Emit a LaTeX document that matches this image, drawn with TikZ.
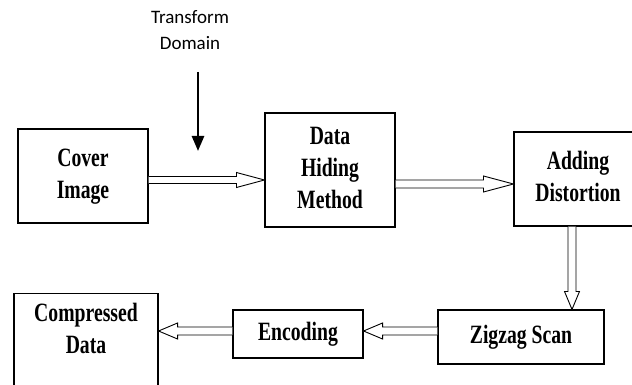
\documentclass[tikz,border=0pt]{standalone}
\usepackage{fontspec}
\usepackage{graphicx}
\setmainfont{Liberation Serif}
\newfontfamily\carlitofont{Carlito}
\usetikzlibrary{arrows.meta,calc}
\newcommand\bt[1]{\scalebox{0.82}[1.1]{\fontsize{24}{29}\selectfont\bfseries\begin{tabular}{@{}c@{}}#1\end{tabular}}}
% horizontal hollow arrow: start, end, shaft half, head half, signed head length
\newcommand\harr[5]{\draw[harrow] let \p1=(#1), \p2=(#2) in
  (\x1,{\y1+#3}) -- ({\x2-(#5)},{\y1+#3}) -- ({\x2-(#5)},{\y1+#4}) -- (\x2,\y1)
  -- ({\x2-(#5)},{\y1-#4}) -- ({\x2-(#5)},{\y1-#3}) -- (\x1,{\y1-#3});}
% vertical (downward) hollow arrow
\newcommand\varr[5]{\draw[harrow] let \p1=(#1), \p2=(#2) in
  ({\x1+#3},\y1) -- ({\x1+#3},{\y2+#5}) -- ({\x1+#4},{\y2+#5}) -- (\x1,\y2)
  -- ({\x1-#4},{\y2+#5}) -- ({\x1-#3},{\y2+#5}) -- ({\x1-#3},\y1);}
\tikzset{
  box/.style={draw, line width=1.1pt, inner sep=0pt},
  harrow/.style={draw, line width=0.9pt, fill=white, line join=miter},
}
\begin{document}
\begin{tikzpicture}[x=1pt,y=-1pt]
\useasboundingbox (0,0) rectangle (632,385);
\clip (0,0) rectangle (632,385);
\node[box, minimum width=130pt, minimum height=94pt] (cover) at (83,176) {\raisebox{7pt}{\bt{Cover\\Image}}};
\node[box, minimum width=130pt, minimum height=114pt] (dhm) at (330,170) {\bt{Data\\Hiding\\Method}};
\node[box, minimum width=128pt, minimum height=94pt] (ad) at (578,179) {\bt{Adding\\Distortion}};
\node[box, minimum width=166pt, minimum height=54pt] (zz) at (521,337) {\bt{Zigzag Scan}};
\node[box, minimum width=130pt, minimum height=48pt] (enc) at (298,334) {\bt{Encoding}};
\node[box, minimum width=144pt, minimum height=110pt, anchor=north] (cd) at (86,293) {};
\node[inner sep=0pt] (cdt) at (86,331) {\bt{Compressed\\Data}};
\node[font=\carlitofont\fontsize{19}{26}\selectfont, align=center, inner sep=0pt] (td) at (190,30) {Transform\\Domain};
\coordinate (tdtop) at (198,72);
\coordinate (tdtip) at (198,151);
\draw[line width=2.5pt, -{Triangle[length=15pt,width=12pt]}] (tdtop) -- (tdtip);
\coordinate (a1s) at (cover.east |- 0,180);
\coordinate (a1e) at (dhm.west |- 0,180);
\harr{a1s}{a1e}{3.5pt}{7.5pt}{28pt}
\coordinate (a2s) at (dhm.east |- 0,184);
\coordinate (a2e) at (ad.west |- 0,184);
\harr{a2s}{a2e}{4pt}{8pt}{30pt}
\coordinate (a3s) at (ad.south -| 572,0);
\coordinate (a3e) at (zz.north -| 572,0);
\varr{a3s}{a3e}{4pt}{7.5pt}{18pt}
\coordinate (a4s) at (zz.west |- 0,331);
\coordinate (a4e) at (enc.east |- 0,331);
\harr{a4s}{a4e}{4pt}{8pt}{-19pt}
\coordinate (a5s) at (enc.west |- 0,331);
\coordinate (a5e) at (cd.east |- 0,331);
\harr{a5s}{a5e}{4pt}{8pt}{-19pt}
\end{tikzpicture}
\end{document}
